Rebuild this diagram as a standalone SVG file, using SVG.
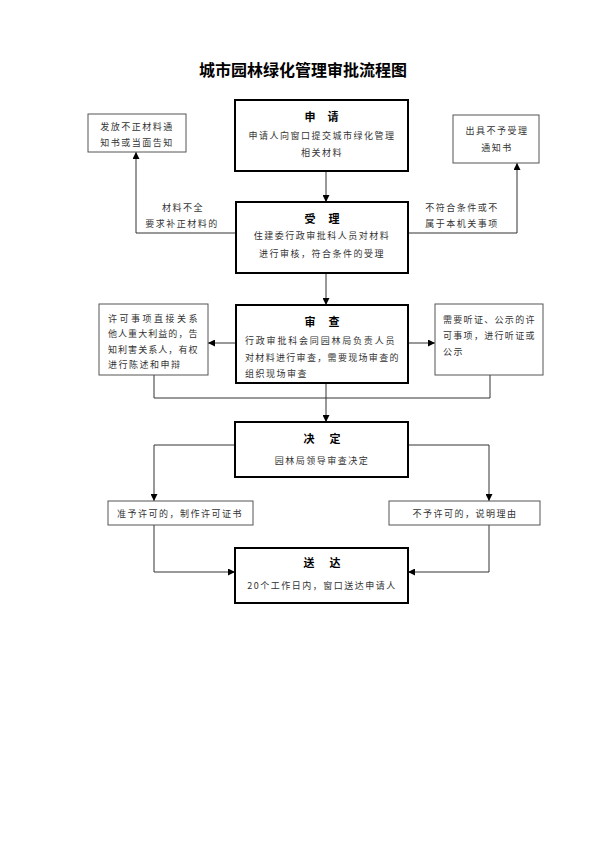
<svg xmlns="http://www.w3.org/2000/svg" width="600" height="848" viewBox="0 0 600 848">
<style>
text{font-family:"Noto Sans CJK SC","Noto Sans",sans-serif;fill:#222}
.title{font-size:16px;font-weight:bold;fill:#000}
.h{font-size:11px;font-weight:bold;fill:#000}
.t{font-size:9px;letter-spacing:1.5px;fill:#333}
.main{fill:#fff;stroke:#000;stroke-width:2}
.side{fill:#fff;stroke:#555;stroke-width:1}
.c{fill:none;stroke:#333;stroke-width:1}
</style>
<defs>
<marker id="a" viewBox="0 0 8 8" refX="8" refY="4" markerWidth="7" markerHeight="7" orient="auto" markerUnits="userSpaceOnUse">
<path d="M0,0L8,4L0,8Z" fill="#000"/>
</marker>
</defs>
<rect width="600" height="848" fill="#fff"/>
<text class="title" x="303" y="76" text-anchor="middle">城市园林绿化管理审批流程图</text>

<g id="connectors">
<path class="c" d="M326,171V202" marker-end="url(#a)"/>
<path class="c" d="M236,233H136V152" marker-end="url(#a)"/>
<path class="c" d="M408,233H517V163" marker-end="url(#a)"/>
<path class="c" d="M326,273V305" marker-end="url(#a)"/>
<path class="c" d="M236,343H208" marker-end="url(#a)"/>
<path class="c" d="M408,343H435" marker-end="url(#a)"/>
<path class="c" d="M154,375V398H490V375"/>
<path class="c" d="M326,383V422" marker-end="url(#a)"/>
<path class="c" d="M235,445H154V501" marker-end="url(#a)"/>
<path class="c" d="M408,445H489V501" marker-end="url(#a)"/>
<path class="c" d="M154,525V572H235" marker-end="url(#a)"/>
<path class="c" d="M489,525V572H408" marker-end="url(#a)"/>
<text class="t" x="183" y="211" text-anchor="middle">材料不全</text>
<text class="t" x="182" y="227" text-anchor="middle">要求补正材料的</text>
<text class="t" x="462" y="211" text-anchor="middle">不符合条件或不</text>
<text class="t" x="462" y="227" text-anchor="middle">属于本机关事项</text>
</g>

<g id="apply">
<rect class="main" x="235" y="100" width="173" height="71"/>
<text class="h" y="121" text-anchor="middle"><tspan x="310">申</tspan><tspan x="333">请</tspan></text>
<text class="t" x="322" y="139" text-anchor="middle">申请人向窗口提交城市绿化管理</text>
<text class="t" x="322" y="156" text-anchor="middle">相关材料</text>
</g>

<g id="notify-supplement">
<rect class="side" x="88" y="114" width="98" height="38"/>
<text class="t" x="137" y="130" text-anchor="middle">发放不正材料通</text>
<text class="t" x="137" y="146" text-anchor="middle">知书或当面告知</text>
</g>

<g id="notify-reject">
<rect class="side" x="453" y="115" width="86" height="48"/>
<text class="t" x="497" y="134" text-anchor="middle">出具不予受理</text>
<text class="t" x="497" y="151" text-anchor="middle">通知书</text>
</g>

<g id="accept">
<rect class="main" x="236" y="202" width="172" height="71"/>
<text class="h" y="223" text-anchor="middle"><tspan x="310">受</tspan><tspan x="334">理</tspan></text>
<text class="t" x="322" y="239" text-anchor="middle">住建委行政审批科人员对材料</text>
<text class="t" x="322" y="257" text-anchor="middle">进行审核，符合条件的受理</text>
</g>

<g id="review">
<rect class="main" x="236" y="305" width="172" height="78"/>
<text class="h" y="326" text-anchor="middle"><tspan x="310">审</tspan><tspan x="334">查</tspan></text>
<text class="t" x="245" y="344" textLength="151">行政审批科会同园林局负责人员</text>
<text class="t" x="245" y="361" textLength="155">对材料进行审查，需要现场审查的</text>
<text class="t" x="245" y="377">组织现场审查</text>
</g>

<g id="inform-party">
<rect class="side" x="99" y="304" width="109" height="71"/>
<text class="t" x="108" y="322" textLength="91">许可事项直接关系</text>
<text class="t" x="108" y="337" textLength="91">他人重大利益的，告</text>
<text class="t" x="108" y="353" textLength="91">知利害关系人，有权</text>
<text class="t" x="108" y="368">进行陈述和申辩</text>
</g>

<g id="hearing">
<rect class="side" x="435" y="304" width="108" height="71"/>
<text class="t" x="443" y="323" textLength="93">需要听证、公示的许</text>
<text class="t" x="443" y="339" textLength="93">可事项，进行听证或</text>
<text class="t" x="443" y="355">公示</text>
</g>

<g id="decide">
<rect class="main" x="235" y="422" width="173" height="55"/>
<text class="h" y="443" text-anchor="middle"><tspan x="309">决</tspan><tspan x="335">定</tspan></text>
<text class="t" x="322" y="464" text-anchor="middle">园林局领导审查决定</text>
</g>

<g id="approve">
<rect class="side" x="108" y="501" width="145" height="24"/>
<text class="t" x="180" y="517" text-anchor="middle">准予许可的，制作许可证书</text>
</g>

<g id="deny">
<rect class="side" x="389" y="501" width="151" height="24"/>
<text class="t" x="465" y="517" text-anchor="middle">不予许可的，说明理由</text>
</g>

<g id="deliver">
<rect class="main" x="235" y="548" width="173" height="55"/>
<text class="h" y="567" text-anchor="middle"><tspan x="309">送</tspan><tspan x="335">达</tspan></text>
<text class="t" x="322" y="589" text-anchor="middle">20个工作日内，窗口送达申请人</text>
</g>
</svg>
